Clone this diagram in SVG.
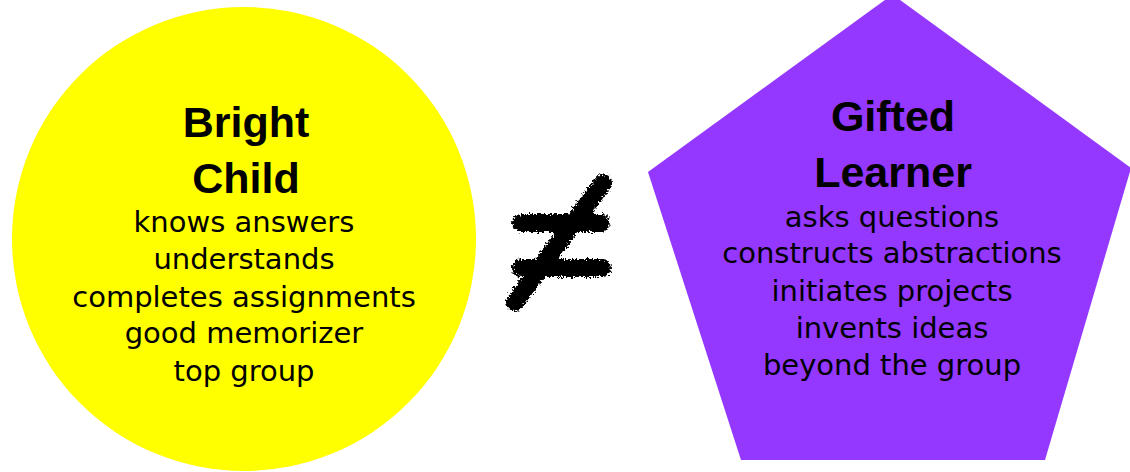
<svg xmlns="http://www.w3.org/2000/svg" width="1130" height="472" viewBox="0 0 1130 472">
  <defs>
    <style>
      .title { font-family: "Liberation Sans", Arial, sans-serif; font-weight: bold; font-size: 43px; fill: #000; text-anchor: middle; }
      .item { font-family: "DejaVu Sans", sans-serif; font-size: 29px; fill: #000; text-anchor: middle; }
      .scribble { stroke: #000; stroke-width: 18; fill: none; stroke-linecap: round; }
    </style>
    <!-- rough, chalky edge for the hand-drawn sign -->
    <filter id="rough" x="-20%" y="-20%" width="140%" height="140%">
      <feTurbulence type="fractalNoise" baseFrequency="0.45" numOctaves="2" seed="3" result="noise"/>
      <feDisplacementMap in="SourceGraphic" in2="noise" scale="8" xChannelSelector="R" yChannelSelector="G"/>
    </filter>
  </defs>
  <rect width="1130" height="472" fill="#fff"/>

  <g id="bright-child">
    <circle cx="244" cy="239" r="232" fill="#FFFF00"/>
    <text class="title" x="246" y="137">Bright</text>
    <text class="title" x="246" y="193">Child</text>
    <text class="item" x="244" y="232">knows answers</text>
    <text class="item" x="244" y="269">understands</text>
    <text class="item" x="244" y="307">completes assignments</text>
    <text class="item" x="244" y="343">good memorizer</text>
    <text class="item" x="244" y="381">top group</text>
  </g>

  <g id="connectors">
    <g id="not-equal" filter="url(#rough)">
      <path class="scribble" d="M521 223 L601 223"/>
      <path class="scribble" d="M521 268 L602 268"/>
      <path class="scribble" d="M515 302 L603 183"/>
    </g>
  </g>

  <g id="gifted-learner">
    <polygon points="892.5,-5.5 1131,168 1045,460 741,460 648,172" fill="#9437FF"/>
    <text class="title" x="893" y="131">Gifted</text>
    <text class="title" x="893" y="187">Learner</text>
    <text class="item" x="892" y="227">asks questions</text>
    <text class="item" x="892" y="263">constructs abstractions</text>
    <text class="item" x="892" y="301">initiates projects</text>
    <text class="item" x="892" y="338">invents ideas</text>
    <text class="item" x="892" y="375">beyond the group</text>
  </g>
</svg>
